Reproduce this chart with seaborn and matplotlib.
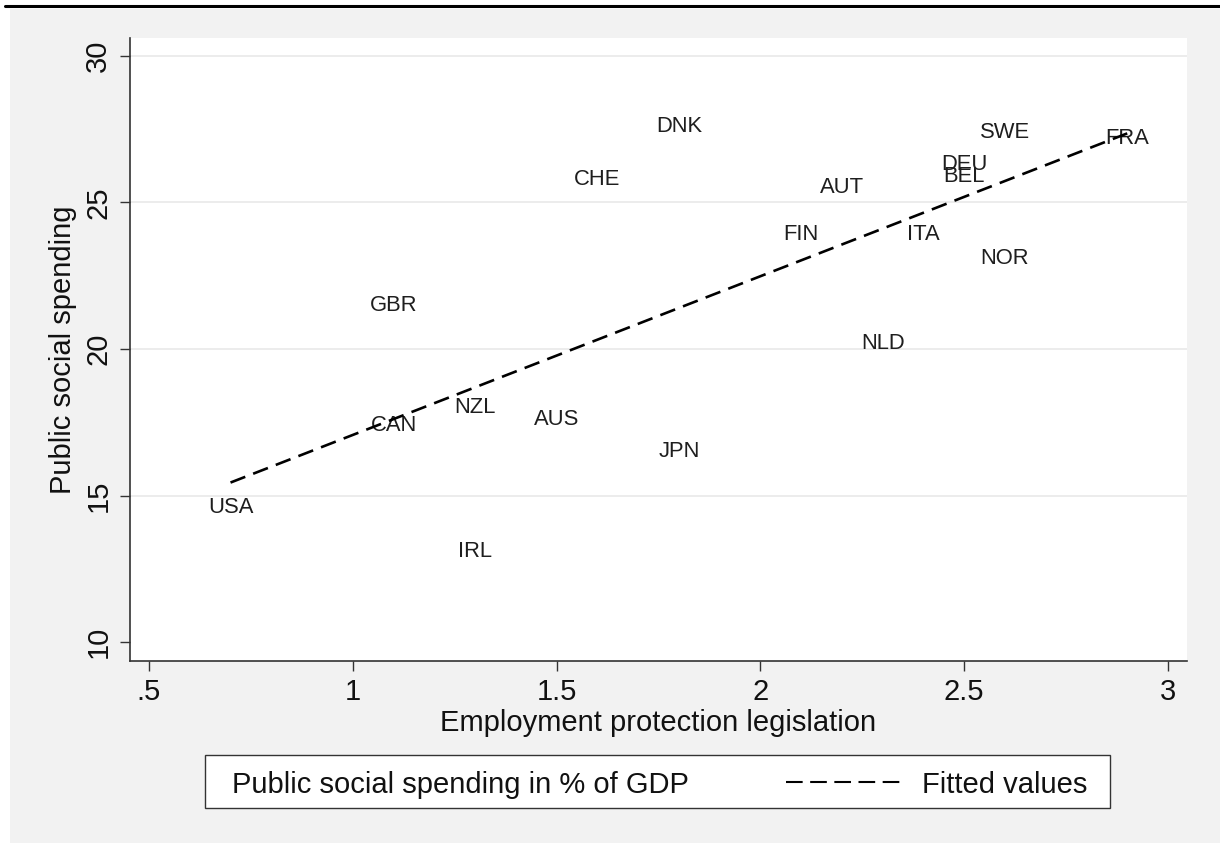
import matplotlib
matplotlib.use("Agg")
import matplotlib.pyplot as plt
from matplotlib.patches import Rectangle
from matplotlib.lines import Line2D
import pandas as pd
import seaborn as sns

# OECD countries: employment protection vs. public social spending
countries = ["DNK", "CHE", "SWE", "FRA", "DEU", "BEL", "AUT", "FIN", "ITA",
             "NOR", "GBR", "NLD", "CAN", "NZL", "AUS", "JPN", "USA", "IRL"]
epl = [1.8, 1.6, 2.6, 2.9, 2.5, 2.5, 2.2, 2.1, 2.4,
       2.6, 1.1, 2.3, 1.1, 1.3, 1.5, 1.8, 0.7, 1.3]
social_spending = [27.6, 25.8, 27.4, 27.2, 26.3, 25.9, 25.5, 23.9, 23.9,
                   23.1, 21.5, 20.2, 17.4, 18.0, 17.6, 16.5, 14.6, 13.1]

x_ticks = [0.5, 1, 1.5, 2, 2.5, 3]
x_tick_labels = [".5", "1", "1.5", "2", "2.5", "3"]
y_ticks = [10, 15, 20, 25, 30]
y_tick_labels = ["10", "15", "20", "25", "30"]

x_title = "Employment protection legislation"
y_title = "Public social spending"
legend_labels = ["Public social spending in % of GDP", "Fitted values"]

df = pd.DataFrame({"country": countries, "epl": epl, "spending": social_spending})

sns.set_style("white")
plt.rcParams["font.family"] = ["Liberation Sans", "DejaVu Sans"]

W, H = 1220, 843
fig = plt.figure(figsize=(W / 100, H / 100), dpi=100, facecolor="white")

# graph region and the rule above it
fig.add_artist(Rectangle((10 / W, 0), 1 - 10 / W, 1 - 8.5 / H,
                         transform=fig.transFigure, facecolor="#f2f2f2",
                         edgecolor="none", zorder=0))
fig.add_artist(Line2D([5 / W, 1], [1 - 6.2 / H] * 2, transform=fig.transFigure,
                      color="black", lw=2.2))

ax = fig.add_axes([130 / W, 1 - 661 / H, 1057 / W, 623 / H])
ax.set_facecolor("white")

fit_style = dict(color="black", lw=1.9, linestyle=(0, (6.0, 3.2)))
sns.regplot(data=df, x="epl", y="spending", scatter=False, ci=None,
            truncate=True, ax=ax, line_kws=fit_style)

for name, xv, yv in zip(df["country"], df["epl"], df["spending"]):
    ax.text(xv, yv, name, ha="center", va="center", fontsize=15.8,
            color="#1e1e1e", zorder=1)

ax.set_xlim(0.4534, 3.0466)
ax.set_ylim(9.352, 30.614)
ax.set_xticks(x_ticks, x_tick_labels)
ax.set_yticks(y_ticks, y_tick_labels)

for s in ["top", "right"]:
    ax.spines[s].set_visible(False)
for s in ["left", "bottom"]:
    ax.spines[s].set_color("#333333")
    ax.spines[s].set_linewidth(1.2)

ax.tick_params(axis="both", direction="out", length=7.2, width=1.0,
               color="#333333", labelsize=21, labelcolor="#111111",
               bottom=True, left=True)
ax.tick_params(axis="x", pad=5.4)
ax.tick_params(axis="y", labelrotation=90, pad=5.5)
for lab in ax.get_yticklabels():
    lab.set_va("center")

ax.yaxis.grid(True, color="#eaeaea", lw=1.3)
ax.xaxis.grid(False)
ax.set_axisbelow(True)
ax.get_ygridlines()[0].set_visible(False)

ax.set_xlabel(x_title, fontsize=21, color="#111111")
ax.xaxis.set_label_coords(0.5, (661 - 731) / 623)
ax.xaxis.label.set_va("baseline")
ax.set_ylabel(y_title, fontsize=21, color="#111111")
ax.yaxis.set_label_coords((63 - 130) / 1057, 0.5)
ax.yaxis.label.set_va("center")

# legend box below the plot
fig.add_artist(Rectangle((205 / W, 1 - 808 / H), 905 / W, 53 / H,
                         transform=fig.transFigure, facecolor="white",
                         edgecolor="#333333", lw=1.0))
fig.text(232 / W, 1 - 793 / H, legend_labels[0], fontsize=21,
         va="baseline", color="#111111")
fig.add_artist(Line2D([786 / W, 904 / W], [1 - 782 / H] * 2,
                      transform=fig.transFigure, color="black", lw=1.5,
                      linestyle=(0, (8.0, 3.6))))
fig.text(922 / W, 1 - 793 / H, legend_labels[1], fontsize=21,
         va="baseline", color="#111111")

fig.savefig("out.png", dpi=100, facecolor=fig.get_facecolor())
